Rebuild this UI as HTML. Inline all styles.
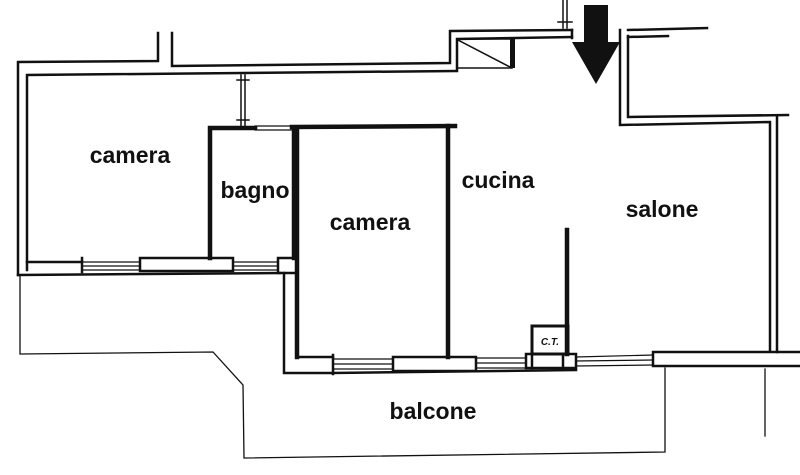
<!DOCTYPE html>
<html><head><meta charset="utf-8"><style>
html,body{margin:0;padding:0;background:#fff;width:800px;height:475px;overflow:hidden}
svg{display:block}
text{font-family:"Liberation Sans",sans-serif;font-weight:bold;fill:#111}
</style></head><body>
<svg width="800" height="475" viewBox="0 0 800 475" xmlns="http://www.w3.org/2000/svg" fill="none" stroke="#111" stroke-linecap="square">
<g stroke-width="2.5">
<polyline points="158,33 158,61 18,62 18,275"/>
<polyline points="27,270 27,75 455,71"/>
<polyline points="172,33 172,66 450,63 450,31 572,30"/>
<polyline points="457,71 457,39 572,37"/>
<line x1="572" y1="30" x2="572" y2="38"/>
</g>
<g stroke-width="1.5"><rect x="457" y="39" width="55" height="29"/><line x1="458" y1="40" x2="510" y2="67"/></g>
<rect x="510" y="39" width="5" height="29" fill="#111" stroke="none"/>
<line x1="563" y1="0" x2="563" y2="28" stroke-width="1.5"/><line x1="567" y1="0" x2="567" y2="28" stroke-width="1.5"/>
<line x1="558" y1="22" x2="572" y2="22" stroke-width="1.5"/>
<rect x="584" y="5" width="24" height="38" fill="#111" stroke="none"/>
<polygon points="572,42 620,42 596,84" fill="#111" stroke="none"/>
<g stroke-width="2.5">
<polyline points="620,30 620,125 770,122 770,350"/>
<polyline points="628,30 707,28"/>
<polyline points="628,37 668,36"/>
<polyline points="628,36 628,117 788,115"/>
<polyline points="777,117 777,352"/>
</g>
<g stroke-width="1.5"><line x1="241" y1="75" x2="241" y2="128"/><line x1="245" y1="75" x2="245" y2="128"/><line x1="237" y1="80" x2="249" y2="80"/><line x1="237" y1="120" x2="249" y2="120"/></g>
<g stroke-width="4.5">
<polyline points="210,258 210,128 255,128"/>
<line x1="292" y1="127" x2="455" y2="126"/>
<line x1="297" y1="128" x2="297" y2="357"/>
<line x1="294" y1="128" x2="294" y2="258"/>
<line x1="448" y1="126" x2="448" y2="357"/>
<line x1="567" y1="230" x2="567" y2="354"/>
</g>
<line x1="255" y1="126" x2="292" y2="126" stroke-width="1.2"/><line x1="255" y1="130" x2="292" y2="130" stroke-width="1.2"/>
<g stroke-width="2.5">
<line x1="27" y1="262" x2="82" y2="262"/>
<line x1="18" y1="275" x2="280" y2="273"/>
<rect x="140" y="258" width="93" height="13"/>
<rect x="278" y="258" width="19" height="15"/>
</g>
<g stroke-width="1.2"><line x1="82" y1="262" x2="140" y2="262"/><line x1="82" y1="266" x2="140" y2="266"/><line x1="82" y1="270" x2="140" y2="270"/>
<line x1="233" y1="262" x2="278" y2="262"/><line x1="233" y1="266" x2="278" y2="266"/><line x1="233" y1="270" x2="278" y2="270"/></g>
<line x1="82" y1="258" x2="82" y2="272" stroke-width="2.5"/>
<g stroke-width="2.5"><polyline points="284,273 284,373 333,373"/><line x1="297" y1="357" x2="333" y2="357"/><line x1="333" y1="355" x2="333" y2="374"/></g>
<g stroke-width="1.2">
<line x1="333" y1="359" x2="393" y2="359"/><line x1="333" y1="364" x2="393" y2="364"/><line x1="333" y1="369" x2="393" y2="369"/>
<line x1="476" y1="358" x2="526" y2="358"/><line x1="476" y1="363" x2="526" y2="363"/><line x1="476" y1="368" x2="526" y2="368"/>
<line x1="576" y1="357" x2="653" y2="355"/><line x1="576" y1="361" x2="653" y2="360"/><line x1="576" y1="366" x2="653" y2="365"/>
</g>
<g stroke-width="2.5">
<line x1="333" y1="373" x2="576" y2="370"/>
<rect x="393" y="357" width="83" height="14"/>
<rect x="526" y="354" width="50" height="14"/>
<line x1="532" y1="354" x2="532" y2="368"/><line x1="563" y1="354" x2="563" y2="368"/>
<rect x="653" y="352" width="150" height="14"/>
</g>
<rect x="532" y="326" width="36" height="28" stroke-width="3"/>
<g stroke-width="1.3">
<polyline points="20,275 20,354 213,352 243,385 244,458 665,452 665,368"/>
<line x1="765" y1="369" x2="765" y2="436"/>
</g>
<g stroke="none">
<text x="130" y="163" font-size="23" text-anchor="middle">camera</text>
<text x="255" y="198" font-size="23" text-anchor="middle">bagno</text>
<text x="370" y="230" font-size="23" text-anchor="middle">camera</text>
<text x="498" y="188" font-size="23" text-anchor="middle">cucina</text>
<text x="662" y="217" font-size="23" text-anchor="middle">salone</text>
<text x="433" y="419" font-size="23" text-anchor="middle">balcone</text>
<text x="550" y="345" font-size="10" font-weight="normal" font-style="italic" text-anchor="middle">C.T.</text>
</g>
</svg>
</body></html>
